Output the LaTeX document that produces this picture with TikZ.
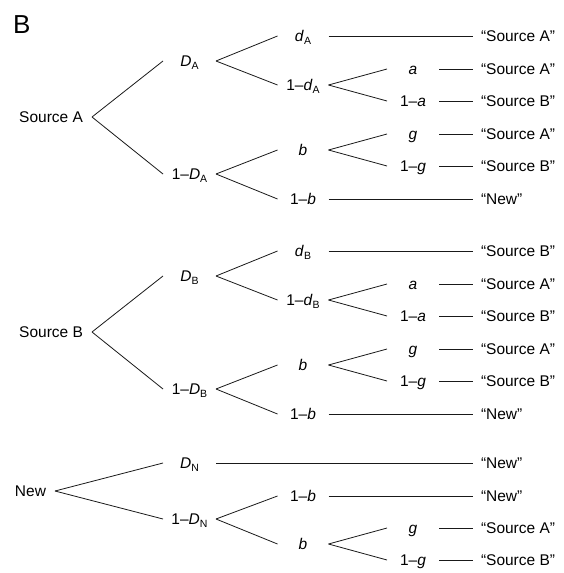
\documentclass[tikz,border=0pt]{standalone}
\usepackage{fontspec}
\setmainfont{Liberation Sans}
\newcommand\sbx[1]{\raisebox{-3pt}{\fontsize{10.5}{12}\selectfont #1}}
\tikzset{
  lab/.style={font=\fontsize{15.5}{18}\selectfont, inner sep=0pt, outer sep=0pt, text height=11pt, text depth=0pt},
  cone/.style={lab, minimum width=53pt, align=center},
  ctwo/.style={lab, minimum width=51pt, align=center},
  cthree/.style={lab, minimum width=52pt, align=center},
  rootnode/.style={lab, anchor=east, inner xsep=9pt},
  leaf/.style={lab, anchor=west, inner xsep=8pt},
  br/.style={line width=0.8pt, draw=black!90}
}
\begin{document}
\begin{tikzpicture}[x=1pt,y=-1pt]
\useasboundingbox (0,0) rectangle (564,573);
\node[font=\fontsize{26}{30}\selectfont, anchor=base west, inner sep=0pt] (lblB) at (13,33) {B};

\foreach \s/\dy/\dl in {A/0/Source A, B/215/Source B}{
  \node[rootnode] (r\s) at (92,{117+\dy}) {Source \s};
  \node[cone] (D\s) at (189.5,{61+\dy}) {\textit{D}\sbx{\s}};
  \node[cone] (nD\s) at (189.5,{174+\dy}) {1–\textit{D}\sbx{\s}};
  \node[ctwo] (d\s) at (303,{36+\dy}) {\textit{d}\sbx{\s}};
  \node[ctwo] (nd\s) at (303,{85+\dy}) {1–\textit{d}\sbx{\s}};
  \node[ctwo] (b\s) at (303,{150+\dy}) {\textit{b}};
  \node[ctwo] (nb\s) at (303,{199+\dy}) {1–\textit{b}};
  \node[cthree] (a\s) at (413,{69+\dy}) {\textit{a}};
  \node[cthree] (na\s) at (413,{101+\dy}) {1–\textit{a}};
  \node[cthree] (g\s) at (413,{134+\dy}) {\textit{g}};
  \node[cthree] (ng\s) at (413,{166+\dy}) {1–\textit{g}};
  \node[leaf] (l\s1) at (473,{36+\dy}) {“\dl”};
  \node[leaf] (l\s2) at (473,{69+\dy}) {“Source A”};
  \node[leaf] (l\s3) at (473,{101+\dy}) {“Source B”};
  \node[leaf] (l\s4) at (473,{134+\dy}) {“Source A”};
  \node[leaf] (l\s5) at (473,{166+\dy}) {“Source B”};
  \node[leaf] (l\s6) at (473,{199+\dy}) {“New”};
  \draw[br] (r\s.east) -- (D\s.west);
  \draw[br] (r\s.east) -- (nD\s.west);
  \draw[br] (D\s.east) -- (d\s.west);
  \draw[br] (D\s.east) -- (nd\s.west);
  \draw[br] (nD\s.east) -- (b\s.west);
  \draw[br] (nD\s.east) -- (nb\s.west);
  \draw[br] (nd\s.east) -- (a\s.west);
  \draw[br] (nd\s.east) -- (na\s.west);
  \draw[br] (b\s.east) -- (g\s.west);
  \draw[br] (b\s.east) -- (ng\s.west);
  \draw[br] (d\s.east) -- (l\s1.west);
  \draw[br] (a\s.east) -- (l\s2.west);
  \draw[br] (na\s.east) -- (l\s3.west);
  \draw[br] (g\s.east) -- (l\s4.west);
  \draw[br] (ng\s.east) -- (l\s5.west);
  \draw[br] (nb\s.east) -- (l\s6.west);
}

\node[rootnode] (rN) at (55,491) {New};
\node[cone] (DN) at (189.5,463) {\textit{D}\sbx{N}};
\node[cone] (nDN) at (189.5,519) {1–\textit{D}\sbx{N}};
\node[ctwo] (nbN) at (303,496) {1–\textit{b}};
\node[ctwo] (bN) at (303,544) {\textit{b}};
\node[cthree] (gN) at (413,528) {\textit{g}};
\node[cthree] (ngN) at (413,560) {1–\textit{g}};
\node[leaf] (lN1) at (473,463) {“New”};
\node[leaf] (lN2) at (473,496) {“New”};
\node[leaf] (lN3) at (473,528) {“Source A”};
\node[leaf] (lN4) at (473,560) {“Source B”};
\draw[br] (rN.east) -- (DN.west);
\draw[br] (rN.east) -- (nDN.west);
\draw[br] (DN.east) -- (lN1.west);
\draw[br] (nDN.east) -- (nbN.west);
\draw[br] (nDN.east) -- (bN.west);
\draw[br] (nbN.east) -- (lN2.west);
\draw[br] (bN.east) -- (gN.west);
\draw[br] (bN.east) -- (ngN.west);
\draw[br] (gN.east) -- (lN3.west);
\draw[br] (ngN.east) -- (lN4.west);
\end{tikzpicture}
\end{document}
